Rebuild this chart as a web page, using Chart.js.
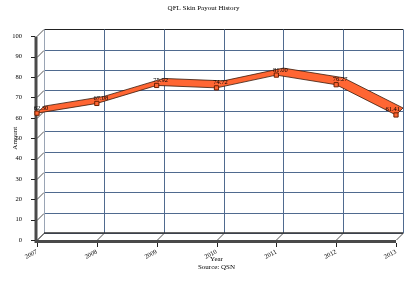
<!DOCTYPE html>
<html><head><meta charset="utf-8">
<script src="https://cdn.jsdelivr.net/npm/chart.js@4/dist/chart.umd.min.js"></script>
<style>html,body{margin:0;padding:0;background:#fff;}#wrap{width:408px;height:300px;}</style>
</head><body><div id="wrap"><canvas id="c" width="408" height="300"></canvas></div>
<script>
const years = ['2007','2008','2009','2010','2011','2012','2013'];
const payouts = [62.3, 67.08, 75.92, 74.72, 81.00, 76.27, 61.41];
const yTicks = [0,10,20,30,40,50,60,70,80,90,100];
const chartTitle = 'QFL Skin Payout History';
const xTitle = ['Year','Source: QSN'];
const yTitle = 'Amount';

const DX = 7, DY = 7;
const SERIF = '"Liberation Serif","DejaVu Serif",serif';

const depthPlugin = {
  id: 'depth',
  beforeDraw(chart){
    const ctx = chart.ctx;
    ctx.save(); ctx.fillStyle = '#fff'; ctx.fillRect(0,0,chart.width,chart.height); ctx.restore();
  },
  beforeDatasetsDraw(chart){
    const ctx = chart.ctx, a = chart.chartArea, xs = chart.scales.x, ys = chart.scales.y;
    ctx.save();
    ctx.lineWidth = 1;
    ys.ticks.forEach(t => {
      const y = Math.round(ys.getPixelForValue(t.value)) - DY + 0.5;
      ctx.strokeStyle = t.value === 100 ? '#222' : '#4f6a8f';
      ctx.beginPath(); ctx.moveTo(a.left + DX, y); ctx.lineTo(a.right + DX, y); ctx.stroke();
      ctx.strokeStyle = '#555';
      ctx.beginPath(); ctx.moveTo(a.left, y + DY); ctx.lineTo(a.left + DX, y); ctx.stroke();
    });
    years.forEach((c,i) => {
      const x = Math.round(xs.getPixelForValue(i)) + DX + 0.5;
      ctx.strokeStyle = i === 0 ? '#9aa5b5' : '#4f6a8f';
      ctx.beginPath(); ctx.moveTo(x, a.top - DY); ctx.lineTo(x, a.bottom - DY); ctx.stroke();
      ctx.strokeStyle = '#555';
      ctx.beginPath(); ctx.moveTo(x - DX, a.bottom); ctx.lineTo(x, a.bottom - DY); ctx.stroke();
    });
    ctx.strokeStyle = '#333'; ctx.lineWidth = 1.5;
    ctx.beginPath(); ctx.moveTo(a.left + DX, a.bottom - DY); ctx.lineTo(a.right + DX, a.bottom - DY); ctx.stroke();
    ctx.strokeStyle = '#4a4a4a'; ctx.lineWidth = 3;
    ctx.beginPath(); ctx.moveTo(a.left - 1, a.top); ctx.lineTo(a.left - 1, a.bottom + 1.5); ctx.lineTo(a.right, a.bottom + 1.5); ctx.stroke();
    ctx.lineWidth = 1; ctx.strokeStyle = '#222';
    ys.ticks.forEach(t => {
      const y = Math.round(ys.getPixelForValue(t.value)) + 0.5;
      ctx.beginPath(); ctx.moveTo(a.left - 6, y); ctx.lineTo(a.left - 2, y); ctx.stroke();
    });
    years.forEach((c,i) => {
      const x = Math.round(xs.getPixelForValue(i)) + 0.5;
      ctx.beginPath(); ctx.moveTo(x, a.bottom + 3); ctx.lineTo(x, a.bottom + 7); ctx.stroke();
    });
    const pts = chart.getDatasetMeta(0).data;
    ctx.fillStyle = '#ff6633'; ctx.strokeStyle = '#3a1a0a'; ctx.lineWidth = 0.8; ctx.lineJoin = 'round';
    for (let i = 0; i < pts.length - 1; i++) {
      const p = pts[i], q = pts[i+1];
      ctx.beginPath();
      ctx.moveTo(p.x, p.y); ctx.lineTo(q.x, q.y); ctx.lineTo(q.x + DX, q.y - DY); ctx.lineTo(p.x + DX, p.y - DY); ctx.closePath();
      ctx.fill();
    }
    ctx.beginPath();
    pts.forEach((p,i) => { i ? ctx.lineTo(p.x, p.y) : ctx.moveTo(p.x, p.y); });
    ctx.stroke();
    ctx.beginPath();
    pts.forEach((p,i) => { i ? ctx.lineTo(p.x + DX, p.y - DY) : ctx.moveTo(p.x + DX, p.y - DY); });
    ctx.stroke();
    ctx.beginPath(); ctx.moveTo(pts[0].x, pts[0].y); ctx.lineTo(pts[0].x + DX, pts[0].y - DY); ctx.stroke();
    const L = pts[pts.length-1];
    ctx.beginPath(); ctx.moveTo(L.x, L.y); ctx.lineTo(L.x + DX, L.y - DY); ctx.stroke();
    ctx.restore();
  },
  afterDatasetsDraw(chart){
    const ctx = chart.ctx, pts = chart.getDatasetMeta(0).data;
    ctx.save();
    ctx.font = '6.5px ' + SERIF; ctx.fillStyle = '#000'; ctx.textBaseline = 'bottom';
    pts.forEach((p,i) => {
      const last = i === pts.length - 1;
      ctx.textAlign = last ? 'right' : 'center';
      ctx.fillText(payouts[i].toFixed(2), p.x + 4, p.y - 2);
    });
    ctx.restore();
  }
};

new Chart(document.getElementById('c'), {
  type: 'line',
  data: { labels: years, datasets: [{
    data: payouts, showLine: false, borderWidth: 0,
    pointStyle: 'rect', pointRadius: 3, pointBackgroundColor: '#ff6633', pointBorderColor: '#6b2000', pointBorderWidth: 1
  }]},
  options: {
    responsive: false, animation: false, devicePixelRatio: 1,
    layout: { padding: { left: 11, right: 12, top: 0, bottom: 29 } },
    plugins: {
      legend: { display: false }, tooltip: { enabled: false },
      title: { display: true, text: chartTitle, color: '#000', font: { family: SERIF, size: 7, weight: 'normal' }, padding: { top: 4, bottom: 24 } }
    },
    scales: {
      x: {
        offset: false,
        grid: { display: false }, border: { display: false },
        ticks: { color: '#000', font: { family: SERIF, size: 6.5 }, minRotation: 28, maxRotation: 28, padding: 0, autoSkip: false },
        title: { display: true, text: xTitle, color: '#000', font: { family: SERIF, size: 7, lineHeight: 1.1 }, padding: { top: 0, bottom: 0 } },
        afterFit(s){ s.height = 31; }
      },
      y: {
        min: 0, max: 100,
        grid: { display: false }, border: { display: false },
        afterBuildTicks(s){ s.ticks = yTicks.map(v => ({ value: v })); },
        ticks: { color: '#000', font: { family: SERIF, size: 6.5 }, padding: 7 },
        title: { display: true, text: yTitle, color: '#000', font: { family: SERIF, size: 7 }, padding: 0 },
        afterFit(s){ s.width = 26; }
      }
    }
  },
  plugins: [depthPlugin]
});
</script></body></html>
